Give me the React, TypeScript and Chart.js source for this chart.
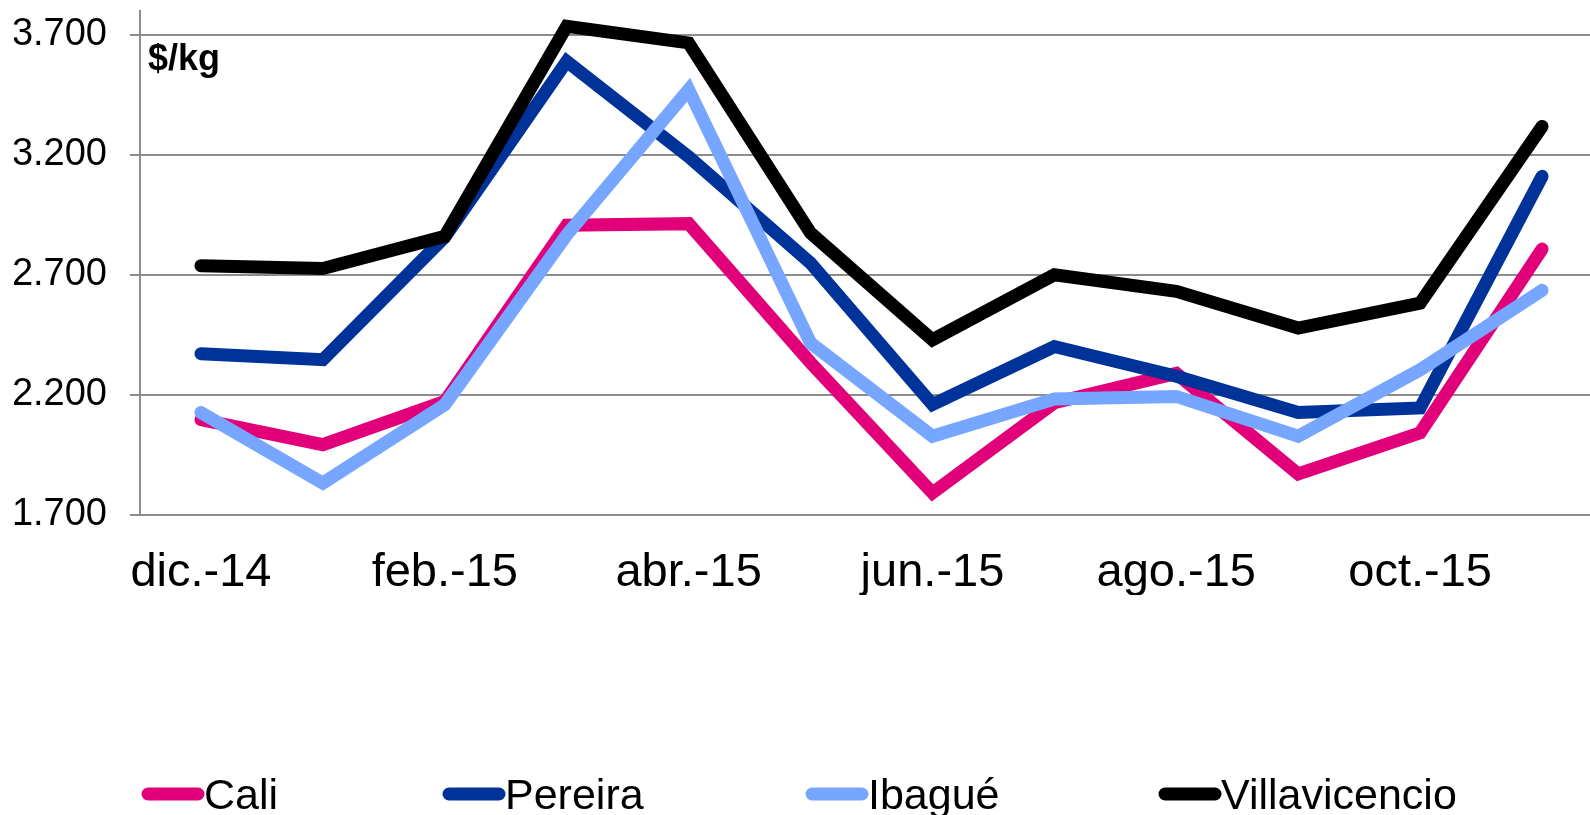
import React, { useEffect, useRef } from "react";
import { Chart, registerables } from "chart.js";

Chart.register(...registerables);

const months = ["dic.-14", "ene.-15", "feb.-15", "mar.-15", "abr.-15", "may.-15", "jun.-15", "jul.-15", "ago.-15", "sep.-15", "oct.-15", "nov.-15"];
const cali = [2097, 1993, 2173, 2907, 2914, 2335, 1792, 2168, 2290, 1871, 2042, 2808];
const pereira = [2372, 2347, 2858, 3590, 3193, 2750, 2160, 2402, 2278, 2127, 2146, 3111];
const ibague = [2127, 1833, 2160, 2867, 3472, 2417, 2028, 2183, 2194, 2028, 2305, 2636];
const villavicencio = [2739, 2727, 2861, 3736, 3667, 2875, 2430, 2701, 2632, 2479, 2583, 3319];
const yTicks = [1700, 2200, 2700, 3200, 3700];
const seriesNames = ["Cali", "Pereira", "Ibagué", "Villavicencio"];
const seriesColors = ["#E2007A", "#003399", "#76A6FF", "#000000"];
const unitLabel = "$/kg";

const FONT = '"Liberation Sans", Arial, sans-serif';
const legendStarts = [142, 443, 806, 1159];

function fmt(v: number) {
  const s = String(Math.round(v));
  if (s.length <= 3) return s;
  return s.slice(0, s.length - 3) + "." + s.slice(s.length - 3);
}

export default function App() {
  const ref = useRef<HTMLCanvasElement | null>(null);
  useEffect(() => {
    document.body.style.margin = "0";
    document.body.style.overflow = "hidden";
    const canvas = ref.current;
    if (!canvas) return;
    const series = [cali, pereira, ibague, villavicencio];
    const extras = {
      id: "extras",
      afterDraw(chart: any) {
        const ctx = chart.ctx;
        const area = chart.chartArea;
        ctx.save();
        ctx.fillStyle = "#000";
        ctx.font = `bold 36px ${FONT}`;
        ctx.textAlign = "left";
        ctx.textBaseline = "alphabetic";
        ctx.fillText(unitLabel, area.left + 8, 70);
        // legend
        ctx.font = `43px ${FONT}`;
        chart.data.datasets.forEach((ds: any, i: number) => {
          const x0 = legendStarts[i];
          ctx.strokeStyle = ds.borderColor;
          ctx.lineWidth = 13;
          ctx.lineCap = "round";
          ctx.beginPath();
          ctx.moveTo(x0 + 6, 794);
          ctx.lineTo(x0 + 56, 794);
          ctx.stroke();
          ctx.fillStyle = "#000";
          ctx.fillText(ds.label, x0 + 62, 809);
        });
        ctx.restore();
      },
    };
    const chart = new Chart(canvas, {
      type: "line",
      data: {
        labels: months,
        datasets: series.map((d, i) => ({
          label: seriesNames[i],
          data: d,
          borderColor: seriesColors[i],
          backgroundColor: seriesColors[i],
          borderWidth: 13,
          pointRadius: 0,
          tension: 0,
          borderCapStyle: "round" as const,
          borderJoinStyle: "miter" as const,
          order: 4 - i,
        })),
      },
      options: {
        animation: false,
        responsive: true,
        maintainAspectRatio: false,
        layout: { padding: { left: 14, right: 7, top: 11, bottom: 220 } },
        plugins: { legend: { display: false }, tooltip: { enabled: false } },
        scales: {
          x: {
            offset: true,
            grid: { display: false, drawTicks: false },
            border: { display: false },
            afterFit: (axis: any) => {
              axis.paddingLeft = 0;
              axis.paddingRight = 0;
              axis.height = 80;
            },
            ticks: {
              autoSkip: false,
              maxRotation: 0,
              padding: 30,
              color: "#000",
              font: { family: FONT, size: 47 },
              callback: (_v: any, i: number) => (i % 2 === 0 ? months[i] : ""),
            },
          },
          y: {
            min: 1700,
            max: 3800,
            afterBuildTicks: (axis: any) => {
              axis.ticks = yTicks.map((v) => ({ value: v }));
            },
            afterFit: (axis: any) => {
              axis.width = 126;
              axis.paddingTop = 0;
              axis.paddingBottom = 0;
            },
            grid: { color: "#8c8c8c", lineWidth: 2, tickLength: 10, drawTicks: true },
            border: { display: true, color: "#8c8c8c", width: 2 },
            ticks: {
              padding: 23,
              color: "#000",
              font: { family: FONT, size: 38 },
              callback: (v: any) => fmt(Number(v)),
            },
          },
        },
      },
      plugins: [extras],
    });
    return () => chart.destroy();
  }, []);
  return (
    <div style={{ position: "fixed", left: 0, top: 0, width: 1590, height: 815, overflow: "hidden", background: "#fff" }}>
      <div style={{ position: "relative", width: 1610, height: 815 }}>
        <canvas ref={ref} />
      </div>
    </div>
  );
}
